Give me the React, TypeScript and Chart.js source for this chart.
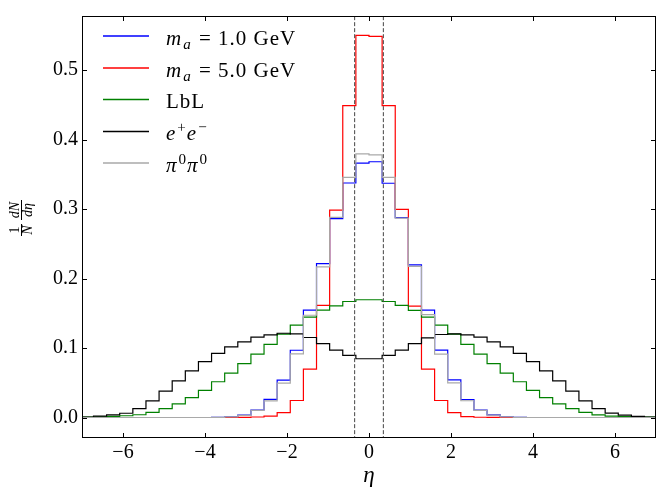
import React, { useEffect, useRef } from "react";
import { Chart, registerables } from "chart.js";

Chart.register(...registerables);

// ---- data ----
const BIN_LO = -7.04;
const BIN_W = 0.32;
const N_BINS = 44;
const binEdges: number[] = Array.from({ length: N_BINS + 1 }, (_, i) => +(BIN_LO + i * BIN_W).toFixed(2));

const ma1: number[] = [
  0, 0, 0, 0, 0, 0, 0, 0, 0, 0,
  0.0003, 0.0009, 0.0035, 0.0108, 0.026, 0.0537, 0.0968, 0.1547, 0.2215, 0.2863, 0.3376, 0.3663,
  0.3682, 0.3372, 0.2877, 0.2196, 0.1547, 0.0969, 0.0541, 0.0259, 0.0108, 0.0038, 0.0009, 0.0003,
  0, 0, 0, 0, 0, 0, 0, 0, 0, 0,
];
const ma5: number[] = [
  0, 0, 0, 0, 0, 0, 0, 0, 0, 0, 0, 0,
  0.0003, 0.0007, 0.0021, 0.0071, 0.0245, 0.0696, 0.1613, 0.2986, 0.449, 0.55,
  0.5487, 0.449, 0.2995, 0.1604, 0.0696, 0.0245, 0.0071, 0.0014, 0.0004, 0.0001,
  0, 0, 0, 0, 0, 0, 0, 0, 0, 0, 0, 0,
];
const lbl: number[] = [
  0.0005, 0.001, 0.0015, 0.0025, 0.004, 0.0073, 0.0127, 0.0197, 0.0287, 0.039, 0.0515,
  0.064, 0.0776, 0.0912, 0.1053, 0.1199, 0.1331, 0.1444, 0.1547, 0.1608, 0.167, 0.1695,
  0.1695, 0.167, 0.1613, 0.1542, 0.1444, 0.1331, 0.1199, 0.1053, 0.0912, 0.0776, 0.064,
  0.0515, 0.039, 0.0287, 0.0197, 0.0127, 0.0075, 0.0038, 0.0019, 0.0014, 0.0009, 0.0005,
];
const ee: number[] = [
  0.0005, 0.002, 0.0038, 0.0061, 0.0127, 0.024, 0.0381, 0.0527, 0.0672, 0.0804, 0.0922,
  0.1016, 0.109, 0.1157, 0.119, 0.1213, 0.1204, 0.1152, 0.1063, 0.0969, 0.0895, 0.0846,
  0.0846, 0.0894, 0.0969, 0.1063, 0.1147, 0.1195, 0.1204, 0.119, 0.1157, 0.109, 0.1016,
  0.0922, 0.0804, 0.0672, 0.0527, 0.0381, 0.024, 0.0127, 0.0063, 0.0033, 0.0016, 0.0005,
];
const pipi: number[] = [
  0, 0, 0, 0, 0, 0, 0, 0, 0, 0,
  0.0003, 0.0009, 0.003, 0.0103, 0.024, 0.0494, 0.0917, 0.1472, 0.2168, 0.288, 0.3456, 0.3794,
  0.378, 0.3456, 0.287, 0.2177, 0.1481, 0.0913, 0.05, 0.0241, 0.0103, 0.0035, 0.0009, 0.0003,
  0, 0, 0, 0, 0, 0, 0, 0, 0, 0,
];
const cutEta: number[] = [-0.35, 0.35];

const xTicks: number[] = [-6, -4, -2, 0, 2, 4, 6];
const yTicks: number[] = [0.0, 0.1, 0.2, 0.3, 0.4, 0.5];
const X_MIN = -7, X_MAX = 7, Y_MIN = -0.0295, Y_MAX = 0.578;

type Part = { t: string; it?: boolean; sub?: boolean; sup?: boolean };
const seriesColors = ["#0000ff", "#ff0000", "#008000", "#000000", "#a9a9a9"];
const legendParts: Part[][] = [
  [{ t: "m", it: true }, { t: "a", it: true, sub: true }, { t: " = 1.0 GeV" }],
  [{ t: "m", it: true }, { t: "a", it: true, sub: true }, { t: " = 5.0 GeV" }],
  [{ t: "LbL" }],
  [{ t: "e", it: true }, { t: "+", sup: true }, { t: "e", it: true }, { t: "\u2212", sup: true }],
  [{ t: "\u03c0", it: true }, { t: "0", sup: true }, { t: "\u03c0", it: true }, { t: "0", sup: true }],
];

const FONT = '"Liberation Serif", "DejaVu Serif", serif';

function drawRich(ctx: CanvasRenderingContext2D, x: number, y: number, parts: Part[], size: number) {
  let cx = x;
  for (const p of parts) {
    const fs = p.sub || p.sup ? size * 0.72 : size;
    ctx.font = `${p.it ? "italic " : ""}${fs}px ${FONT}`;
    const dy = p.sub ? size * 0.22 : p.sup ? -size * 0.38 : 0;
    ctx.fillText(p.t, cx, y + dy);
    cx += ctx.measureText(p.t).width + (p.it ? 1 : 0);
  }
}

const overlay = {
  id: "overlay",
  afterDraw(chart: any) {
    const { ctx, chartArea: a, scales } = chart;
    const xs = scales.x, ys = scales.y;
    ctx.save();
    ctx.strokeStyle = "#000";
    ctx.lineWidth = 1;
    ctx.strokeRect(Math.round(a.left) + 0.5, Math.round(a.top) + 0.5, Math.round(a.right - a.left) - 1, Math.round(a.bottom - a.top) - 1);
    ctx.beginPath();
    const TL = 5;
    for (const v of xTicks) {
      const px = Math.round(xs.getPixelForValue(v)) + 0.5;
      ctx.moveTo(px, a.bottom); ctx.lineTo(px, a.bottom - TL);
      ctx.moveTo(px, a.top); ctx.lineTo(px, a.top + TL);
    }
    for (const v of yTicks) {
      const py = Math.round(ys.getPixelForValue(v)) + 0.5;
      ctx.moveTo(a.left, py); ctx.lineTo(a.left + TL, py);
      ctx.moveTo(a.right, py); ctx.lineTo(a.right - TL, py);
    }
    ctx.stroke();

    // legend
    const rowY = [36, 68, 99.5, 131.5, 163];
    legendParts.forEach((parts, i) => {
      ctx.strokeStyle = seriesColors[i];
      ctx.lineWidth = 1.3;
      ctx.beginPath();
      ctx.moveTo(103, rowY[i]);
      ctx.lineTo(149, rowY[i]);
      ctx.stroke();
      ctx.fillStyle = "#000";
      ctx.textAlign = "left";
      ctx.textBaseline = "alphabetic";
      (ctx as any).letterSpacing = "1px";
      drawRich(ctx, 166, rowY[i] + 8.5, parts, 21);
      (ctx as any).letterSpacing = "0px";
    });

    // x label
    ctx.fillStyle = "#000";
    ctx.textAlign = "center";
    ctx.font = `italic 23px ${FONT}`;
    ctx.fillText("\u03b7", (a.left + a.right) / 2, 482);

    // y label: (1/N)(dN/dη), rotated
    ctx.save();
    ctx.translate(21, 217);
    ctx.rotate(-Math.PI / 2);
    ctx.textAlign = "center";
    ctx.font = `14px ${FONT}`;
    ctx.fillText("1", -13, -2.5);
    ctx.font = `italic 14px ${FONT}`;
    ctx.fillText("N", -13, 11);
    ctx.fillText("dN", 7, -2.5);
    ctx.fillText("d\u03b7", 7, 11);
    ctx.lineWidth = 1;
    ctx.strokeStyle = "#000";
    ctx.beginPath();
    ctx.moveTo(-19, 0.5); ctx.lineTo(-7, 0.5);
    ctx.moveTo(-3, 0.5); ctx.lineTo(17, 0.5);
    ctx.stroke();
    ctx.restore();

    ctx.restore();
  },
};

function stepData(vals: number[]) {
  return binEdges.map((e, i) => ({ x: e, y: vals[Math.min(i, vals.length - 1)] }));
}

export default function App() {
  const ref = useRef<HTMLCanvasElement>(null);
  useEffect(() => {
    document.body.style.margin = "0";
    const canvas = ref.current!;
    const mk = (label: string, vals: number[], color: string) => ({
      label,
      data: stepData(vals),
      borderColor: color,
      backgroundColor: color,
      borderWidth: 1.2,
      stepped: true as const,
      pointRadius: 0,
      fill: false,
    });
    const dash = (v: number) => ({
      label: "cut",
      data: [{ x: v, y: -1 }, { x: v, y: 1 }],
      borderColor: "#444",
      borderWidth: 1,
      borderDash: [4, 2],
      pointRadius: 0,
      fill: false,
    });
    const chart = new Chart(canvas, {
      type: "line",
      data: {
        datasets: [
          dash(cutEta[0]),
          dash(cutEta[1]),
          mk("π0π0", pipi, seriesColors[4]),
          mk("e+e-", ee, seriesColors[3]),
          mk("LbL", lbl, seriesColors[2]),
          mk("ma = 5.0 GeV", ma5, seriesColors[1]),
          mk("ma = 1.0 GeV", ma1, seriesColors[0]),
        ] as any,
      },
      options: {
        animation: false,
        responsive: false,
        devicePixelRatio: 1,
        layout: { padding: { top: 7, right: 8, left: 0, bottom: 0 } },
        plugins: { legend: { display: false }, tooltip: { enabled: false } },
        scales: {
          x: {
            type: "linear",
            min: X_MIN,
            max: X_MAX,
            grid: { display: false, drawTicks: false },
            border: { display: false },
            ticks: {
              color: "#000",
              font: { family: FONT, size: 20 },
              padding: 3,
              autoSkip: false,
              maxRotation: 0,
              callback: (v: any) => (v < 0 ? "\u2212" + Math.abs(v) : String(v)),
            },
            afterBuildTicks: (s: any) => { s.ticks = xTicks.map((v) => ({ value: v })); },
            afterFit: (s: any) => { s.height = 51; },
          },
          y: {
            type: "linear",
            min: Y_MIN,
            max: Y_MAX,
            grid: { display: false, drawTicks: false },
            border: { display: false },
            ticks: {
              color: "#000",
              font: { family: FONT, size: 20 },
              padding: 4,
              callback: (v: any) => Number(v).toFixed(1),
            },
            afterBuildTicks: (s: any) => { s.ticks = yTicks.map((v) => ({ value: v })); },
            afterFit: (s: any) => { s.width = 82; },
          },
        },
      } as any,
      plugins: [overlay],
    });
    return () => chart.destroy();
  }, []);
  return <canvas ref={ref} width={664} height={489} style={{ display: "block" }} />;
}
